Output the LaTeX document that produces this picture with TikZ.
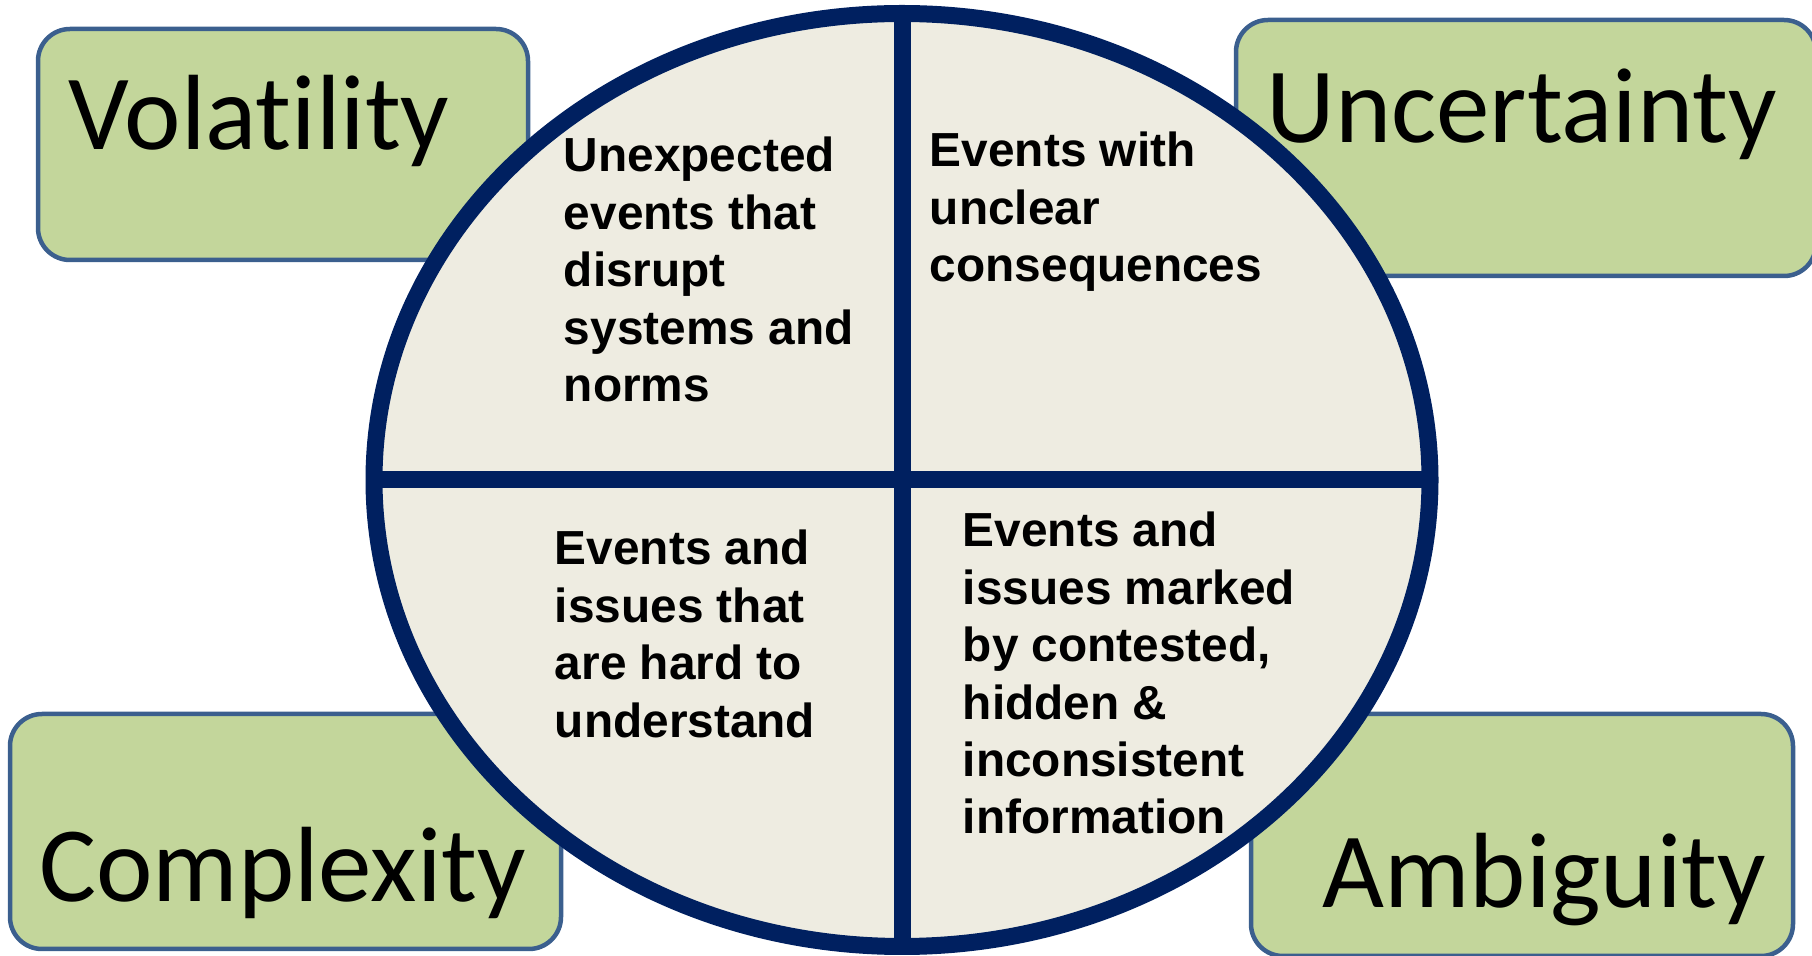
\documentclass[tikz,border=0pt]{standalone}
\usepackage{fontspec}
\usetikzlibrary{shapes.geometric}
\newfontfamily\boxfont[Ligatures=NoCommon]{Carlito}
\newfontfamily\quadfont{Liberation Sans}
\definecolor{navy}{HTML}{002060}
\definecolor{paper}{HTML}{EEECE1}
\definecolor{leaf}{HTML}{C3D69B}
\definecolor{boxline}{HTML}{3B5F8E}
\tikzset{
  greenbox/.style={fill=leaf, draw=boxline, line width=2.25pt, rounded corners=16pt},
  boxlabel/.style={anchor=base west, inner sep=0pt, font={\boxfont\fontsize{53.5}{64}\selectfont}},
  quadtext/.style={anchor=base west, inner sep=0pt, font={\quadfont\bfseries\fontsize{23.9}{28.7}\selectfont}},
  divider/.style={draw=navy, line width=8.5pt},
}
\begin{document}
\begin{tikzpicture}[x=0.5pt,y=-0.5pt]
\useasboundingbox (0,0) rectangle (1812,956);
% green boxes
\path[greenbox] (38,29) rectangle (528,260);
\path[greenbox] (1236,20) rectangle (1816,276);
\path[greenbox] (10,714) rectangle (561,949);
\path[greenbox] (1251,714) rectangle (1793,956);
% labels
\node[boxlabel] (vol) at (68,150) {Volatility};
\node[boxlabel] (unc) at (1266,143) {Uncertainty};
\node[boxlabel] (cpx) at (39,902) {Complexity};
\node[boxlabel] (amb) at (1322,908) {Ambiguity};
% ellipse
\node[ellipse, draw=navy, fill=paper, line width=8.5pt, inner sep=0pt, outer sep=0pt,
      minimum width=528pt, minimum height=466.5pt] (e) at (902,480) {};
\draw[divider] (e.north) -- (e.south);
\draw[divider] (e.west) -- (e.east);
% quadrant texts
\node[quadtext] (q1) at (563.5,172) {\begin{tabular}[t]{@{}l@{}}Unexpected\\events that\\disrupt\\systems and\\norms\end{tabular}};
\node[quadtext] (q2) at (929.5,167) {\begin{tabular}[t]{@{}l@{}}Events with\\unclear\\consequences\end{tabular}};
\node[quadtext] (q3) at (554.5,565) {\begin{tabular}[t]{@{}l@{}}Events and\\issues that\\are hard to\\understand\end{tabular}};
\node[quadtext] (q4) at (962.5,547) {\begin{tabular}[t]{@{}l@{}}Events and\\issues marked\\by contested,\\hidden \&\\inconsistent\\information\end{tabular}};
\end{tikzpicture}
\end{document}
